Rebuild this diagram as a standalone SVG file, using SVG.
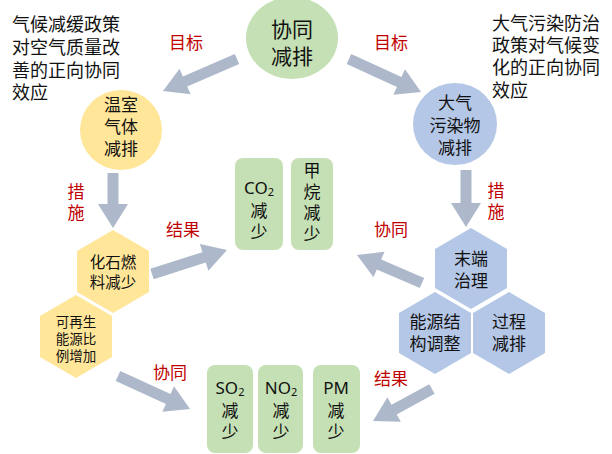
<svg xmlns="http://www.w3.org/2000/svg" width="612" height="454" viewBox="0 0 612 454">
<style>
text{font-family:"Noto Sans","Noto Sans CJK SC",sans-serif;fill:#111;text-anchor:middle;dominant-baseline:central}
.t{text-anchor:start;font-size:18px}
.red{fill:#c00000;font-size:17px}
.g{fill:#c5e0b4}
.y{fill:#ffe699}
.b{fill:#b4c7e7}
.arr{fill:#adb9ca}
</style>
<rect width="612" height="454" fill="#fff"/>
<g id="note-left">
<text class="t" x="12" y="24">气候减缓政策</text>
<text class="t" x="12" y="47">对空气质量改</text>
<text class="t" x="12" y="70">善的正向协同</text>
<text class="t" x="12" y="92">效应</text>
</g>
<g id="note-right">
<text class="t" x="492" y="23">大气污染防治</text>
<text class="t" x="492" y="45">政策对气候变</text>
<text class="t" x="492" y="67">化的正向协同</text>
<text class="t" x="492" y="90">效应</text>
</g>
<g id="connectors">
<polygon class="arr" transform="translate(237,59) rotate(156.6)" points="0,-5.5 56.6,-5.5 56.6,-14 80.6,0 56.6,14 56.6,5.5 0,5.5"/>
<polygon class="arr" transform="translate(349,59) rotate(24.6)" points="0,-5.5 55.2,-5.5 55.2,-14 79.2,0 55.2,14 55.2,5.5 0,5.5"/>
<polygon class="arr" transform="translate(113,173) rotate(90)" points="0,-5.5 31,-5.5 31,-15 55,0 31,15 31,5.5 0,5.5"/>
<polygon class="arr" transform="translate(466,170) rotate(90)" points="0,-5.5 33,-5.5 33,-15 57,0 33,15 33,5.5 0,5.5"/>
<polygon class="arr" transform="translate(152,274) rotate(-17.7)" points="0,-5.5 54.7,-5.5 54.7,-14 78.7,0 54.7,14 54.7,5.5 0,5.5"/>
<polygon class="arr" transform="translate(422,283) rotate(203.3)" points="0,-5.5 46.8,-5.5 46.8,-14 70.8,0 46.8,14 46.8,5.5 0,5.5"/>
<polygon class="arr" transform="translate(118,376) rotate(24.6)" points="0,-5.5 55.2,-5.5 55.2,-14 79.2,0 55.2,14 55.2,5.5 0,5.5"/>
<polygon class="arr" transform="translate(432,389) rotate(151.5)" points="0,-5.5 43.1,-5.5 43.1,-14 67.1,0 43.1,14 43.1,5.5 0,5.5"/>
</g>
<g id="labels">
<text class="red" x="186" y="42">目标</text>
<text class="red" x="391" y="42">目标</text>
<text class="red" x="76" y="191">措</text>
<text class="red" x="76" y="212">施</text>
<text class="red" x="496" y="190">措</text>
<text class="red" x="496" y="211">施</text>
<text class="red" x="183" y="229">结果</text>
<text class="red" x="391" y="229">协同</text>
<text class="red" x="170" y="372">协同</text>
<text class="red" x="391" y="378">结果</text>
</g>
<g id="n-top">
<ellipse class="g" cx="292" cy="38" rx="46" ry="41"/>
<text x="292" y="29" font-size="21">协同</text>
<text x="292" y="56" font-size="21">减排</text>
</g>
<g id="n-ghg">
<ellipse class="y" cx="121" cy="130" rx="41" ry="40"/>
<text x="121" y="104" font-size="17">温室</text>
<text x="121" y="126" font-size="17">气体</text>
<text x="121" y="148" font-size="17">减排</text>
</g>
<g id="n-air">
<ellipse class="b" cx="455" cy="124" rx="42" ry="41"/>
<text x="455" y="102" font-size="17">大气</text>
<text x="455" y="125" font-size="17">污染物</text>
<text x="455" y="147" font-size="17">减排</text>
</g>
<g id="n-fossil">
<polygon class="y" points="113,230 149,251 149,292 113,313 77,292 77,251"/>
<text x="113" y="262" font-size="15.5">化石燃</text>
<text x="113" y="282" font-size="15.5">料减少</text>
</g>
<g id="n-renew">
<polygon class="y" points="76,295 112,316 112,357 76,378 40,357 40,316"/>
<text x="76" y="322" font-size="13.5">可再生</text>
<text x="76" y="339" font-size="13.5">能源比</text>
<text x="76" y="356" font-size="13.5">例增加</text>
</g>
<g id="n-end">
<polygon class="b" points="471,228 507,249 507,288 471,309 435,288 435,249"/>
<text x="471" y="258" font-size="17">末端</text>
<text x="471" y="280" font-size="17">治理</text>
</g>
<g id="n-energy">
<polygon class="b" points="435,292 471,313 471,353 435,374 399,353 399,313"/>
<text x="435" y="321" font-size="17">能源结</text>
<text x="435" y="343" font-size="17">构调整</text>
</g>
<g id="n-process">
<polygon class="b" points="509,292 545,313 545,353 509,374 473,353 473,313"/>
<text x="509" y="321" font-size="17">过程</text>
<text x="509" y="343" font-size="17">减排</text>
</g>
<g id="n-co2">
<rect class="g" x="235" y="158" width="48" height="92" rx="8"/>
<text x="259" y="187" font-size="17">CO<tspan font-size="11" dy="4">2</tspan></text>
<text x="259" y="210" font-size="17">减</text>
<text x="259" y="231" font-size="17">少</text>
</g>
<g id="n-ch4">
<rect class="g" x="291" y="158" width="42" height="92" rx="8"/>
<text x="312" y="170" font-size="17">甲</text>
<text x="312" y="191" font-size="17">烷</text>
<text x="312" y="212" font-size="17">减</text>
<text x="312" y="233" font-size="17">少</text>
</g>
<g id="n-so2">
<rect class="g" x="207" y="365" width="46" height="88" rx="8"/>
<text x="230" y="387" font-size="17">SO<tspan font-size="11" dy="4">2</tspan></text>
<text x="230" y="410" font-size="17">减</text>
<text x="230" y="431" font-size="17">少</text>
</g>
<g id="n-no2">
<rect class="g" x="258" y="365" width="45" height="88" rx="8"/>
<text x="281" y="387" font-size="17">NO<tspan font-size="11" dy="4">2</tspan></text>
<text x="281" y="410" font-size="17">减</text>
<text x="281" y="431" font-size="17">少</text>
</g>
<g id="n-pm">
<rect class="g" x="313" y="365" width="47" height="88" rx="8"/>
<text x="336" y="387" font-size="17">PM</text>
<text x="336" y="410" font-size="17">减</text>
<text x="336" y="431" font-size="17">少</text>
</g>
</svg>
